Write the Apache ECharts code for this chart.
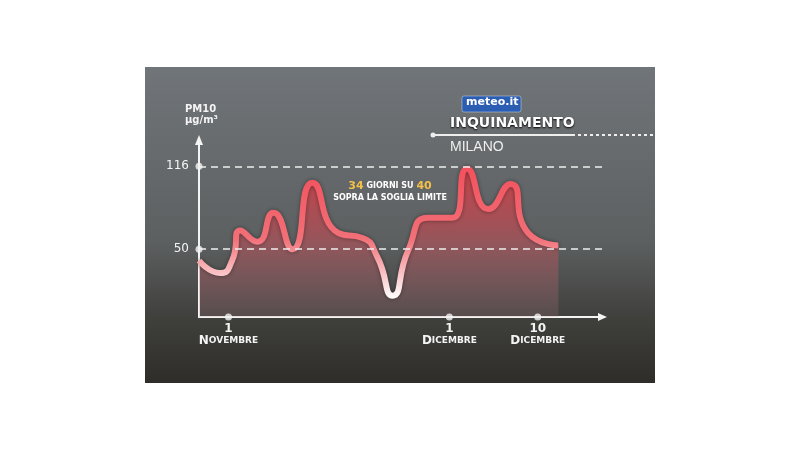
<!DOCTYPE html>
<html><head><meta charset="utf-8">
<script src="https://cdn.jsdelivr.net/npm/echarts@6/dist/echarts.min.js"></script>
<style>html,body{margin:0;background:#fff}#c{width:800px;height:450px}</style>
</head><body><div id="c"></div>
<script>
// giorni (1 = 1 novembre) e PM10 in µg/m³
const days = [-3, -0.1, 1.5, 2.6, 4.9, 7.1, 9.7, 12.4, 15.9, 19.2, 21.2, 23.3, 25.4, 28.1, 31.4, 33.4, 36.3, 39.3, 41.7, 45.8];
const pm10 = [41, 31, 41, 65, 56, 79, 50, 103, 63, 59, 44, 13, 49, 75, 75, 114, 82, 102, 63, 53];
const yTicks = [50, 116];
const xTicks = [1, 31, 43];
const xTickLabels = ['1\n{b|N}{s|OVEMBRE}', '1\n{b|D}{s|ICEMBRE}', '10\n{b|D}{s|ICEMBRE}'];

const chart = echarts.init(document.getElementById('c'));
const white = '#f4f4f4';

chart.setOption({
  animation: false,
  graphic: [
    { type: 'rect', z: -10, shape: { x: 145, y: 67, width: 510, height: 316 },
      style: { fill: new echarts.graphic.LinearGradient(0, 0, 0, 1, [
        { offset: 0, color: '#707579' }, { offset: 0.55, color: '#5d6061' },
        { offset: 0.8, color: '#3f3f3c' }, { offset: 1, color: '#2e2d2a' }]) } },
    { type: 'text', left: 185, top: 104, style: { text: 'PM10\nµg/m³', fill: white, font: 'bold 10px "DejaVu Sans"', lineHeight: 11 } },
    { type: 'rect', shape: { x: 462, y: 96, width: 59, height: 16, r: 2 }, style: { fill: '#2b5db3', stroke: '#cfd8ea', lineWidth: 0.5 } },
    { type: 'text', left: 466, top: 97, style: { text: 'meteo.it', fill: '#fff', font: 'bold 11px "DejaVu Sans"' } },
    { type: 'text', left: 450, top: 116, style: { text: 'INQUINAMENTO', fill: '#fff', font: 'bold 14px "DejaVu Sans"', textShadowColor: '#000', textShadowBlur: 2, textShadowOffsetY: 1 } },
    { type: 'line', shape: { x1: 432, y1: 135, x2: 575, y2: 135 }, style: { stroke: '#eee', lineWidth: 2 } },
    { type: 'line', shape: { x1: 578, y1: 135, x2: 655, y2: 135 }, style: { stroke: '#eee', lineWidth: 2, lineDash: [3, 3] } },
    { type: 'circle', shape: { cx: 433, cy: 135, r: 2.5 }, style: { fill: '#eee' } },
    { type: 'text', left: 450, top: 140, style: { text: 'MILANO', fill: '#eee', font: '14px "Liberation Sans"' } },
    { type: 'text', x: 390, y: 186, style: { text: '{y|34} GIORNI SU {y|40}', align: 'center', verticalAlign: 'middle', fill: '#fff', font: 'bold 8px "DejaVu Sans"',
      rich: { y: { fill: '#f2c04a', font: 'bold 11px "DejaVu Sans"' } } } },
    { type: 'text', x: 390, y: 198, style: { text: 'SOPRA LA SOGLIA LIMITE', align: 'center', verticalAlign: 'middle', fill: '#fff', font: 'bold 8px "DejaVu Sans"' } },
    { type: 'polygon', shape: { points: [[199, 135], [195, 145], [203, 145]] }, style: { fill: white } },
    { type: 'polygon', shape: { points: [[607, 317], [598, 313], [598, 321]] }, style: { fill: white } }
  ],
  grid: { left: 199, right: 196, top: 140, bottom: 133 },
  xAxis: {
    type: 'value', min: -3, max: 52, interval: 1,
    axisLine: { onZero: false, lineStyle: { color: white, width: 2 } },
    axisTick: { show: false }, splitLine: { show: false },
    axisLabel: {
      color: white, fontWeight: 'bold', fontSize: 12, fontFamily: 'DejaVu Sans', lineHeight: 12, margin: 6,
      formatter: v => { const i = xTicks.indexOf(v); return i < 0 ? '' : xTickLabels[i]; },
      rich: { b: { color: white, fontWeight: 'bold', fontSize: 12, fontFamily: 'DejaVu Sans' },
              s: { color: white, fontWeight: 'bold', fontSize: 9, fontFamily: 'DejaVu Sans' } }
    }
  },
  yAxis: {
    type: 'value', min: -4, max: 137, interval: 1,
    axisLine: { show: true, onZero: false, lineStyle: { color: white, width: 2 } },
    axisTick: { show: false }, splitLine: { show: false },
    axisLabel: { color: white, fontSize: 12, fontFamily: 'DejaVu Sans', margin: 10,
      formatter: v => yTicks.includes(v) ? String(v) : '' }
  },
  series: [
    {
      type: 'line', smooth: 0.6, symbol: 'none', z: 3,
      data: days.map((d, i) => [d, pm10[i]]),
      lineStyle: { width: 6, shadowColor: 'rgba(0,0,0,0.4)', shadowBlur: 4,
        color: new echarts.graphic.LinearGradient(0, 0, 0, 1, [
          { offset: 0, color: '#f2505c' }, { offset: 0.55, color: '#f27078' }, { offset: 1, color: '#ffffff' }]) },
      areaStyle: { origin: 'start', color: new echarts.graphic.LinearGradient(0, 0, 0, 1, [
        { offset: 0, color: 'rgba(245,50,60,1)' }, { offset: 0.4, color: 'rgba(225,65,75,0.7)' }, { offset: 1, color: 'rgba(170,120,130,0.3)' }]) },
      markLine: { silent: true, symbol: 'none', label: { show: false },
        lineStyle: { color: '#eee', type: [7, 5], width: 1.5 },
        data: yTicks.map(v => ({ yAxis: v })) }
    },
    {
      type: 'scatter', symbolSize: 7, z: 5, itemStyle: { color: white },
      data: xTicks.map(d => [d, -4]).concat(yTicks.map(v => [-3, v]))
    }
  ]
});
</script></body></html>
